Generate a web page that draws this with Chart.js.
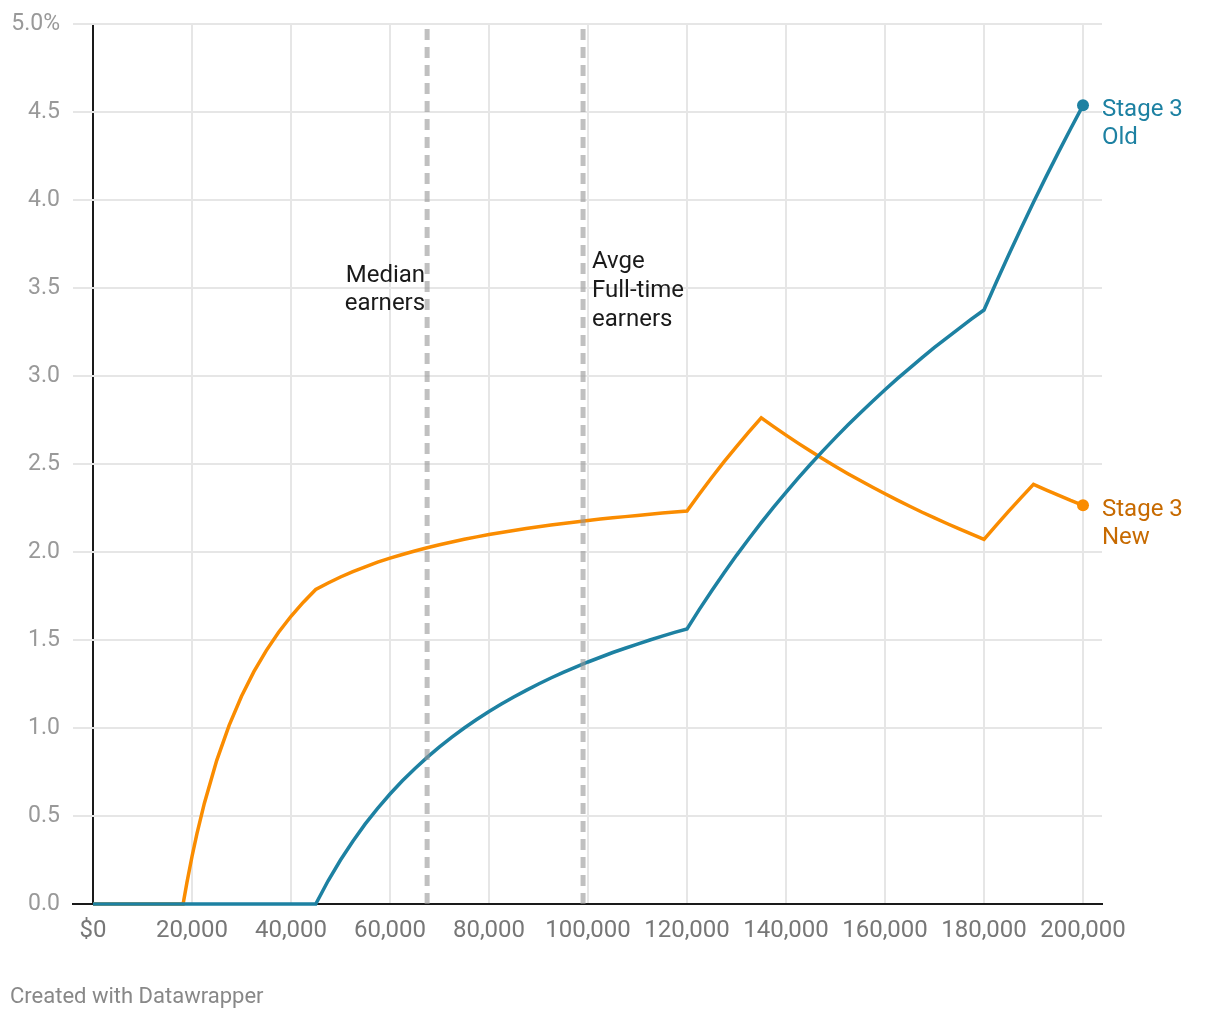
<!DOCTYPE html>
<html><head><meta charset="utf-8">
<script src="https://cdn.jsdelivr.net/npm/chart.js@4"></script>
<style>html,body{margin:0;padding:0;background:#fff}#wrap{width:1220px;height:1020px;position:relative}</style>
</head><body><div id="wrap"><canvas id="c" width="1220" height="1020"></canvas></div>
<script>
const incomes = [0,5000,10000,15000,18200,19000,20000,21000,22500,
  25000,27500,30000,32500,35000,37500,40000,42500,45000,
  47500,50000,52500,55000,57500,60000,62500,65000,67500,70000,72500,75000,77500,80000,82500,85000,87500,90000,92500,95000,97500,100000,102500,105000,107500,110000,112500,115000,117500,120000,
  122500,125000,127500,130000,132500,135000,137500,140000,142500,145000,147500,150000,152500,155000,157500,160000,162500,165000,167500,170000,172500,175000,177500,180000,
  182500,185000,187500,190000,192500,195000,197500,200000];
const stage3Old = [0,0,0,0,0,0,0,0,0,
  0,0,0,0,0,0,0,0,0,
  0.132,0.25,0.357,0.455,0.543,0.625,0.7,0.769,0.833,0.893,0.948,1.0,1.048,1.094,1.136,1.176,1.214,1.25,1.284,1.316,1.346,1.375,1.402,1.429,1.453,1.477,1.5,1.522,1.543,1.563,
  1.674,1.78,1.882,1.981,2.075,2.167,2.255,2.339,2.421,2.5,2.576,2.65,2.721,2.79,2.857,2.922,2.985,3.045,3.104,3.162,3.217,3.271,3.324,3.375,
  3.534,3.689,3.84,3.987,4.13,4.269,4.405,4.538];
const stage3New = [0,0,0,0,0,0.126,0.27,0.4,0.573,
  0.816,1.015,1.18,1.32,1.44,1.544,1.635,1.715,1.787,
  1.824,1.858,1.889,1.916,1.942,1.965,1.986,2.006,2.024,2.041,2.057,2.072,2.086,2.099,2.111,2.122,2.133,2.143,2.153,2.162,2.171,2.179,2.187,2.194,2.201,2.208,2.215,2.221,2.227,2.233,
  2.33,2.423,2.513,2.599,2.682,2.762,2.712,2.664,2.617,2.572,2.528,2.486,2.445,2.406,2.368,2.331,2.295,2.26,2.226,2.194,2.162,2.131,2.101,2.072,
  2.153,2.232,2.309,2.384,2.353,2.323,2.293,2.265];
const xTickValues = [0,20000,40000,60000,80000,100000,120000,140000,160000,180000,200000];
const yTickValues = [0,0.5,1,1.5,2,2.5,3,3.5,4,4.5,5];
const markerIncomes = [67500, 99000];
const markerLabels = [["Median","earners"],["Avge","Full-time","earners"]];
const seriesNames = [["Stage 3","Old"],["Stage 3","New"]];
const seriesColors = ["#1d81a2","#fa8c00"];
const seriesTextColors = ["#1d81a2","#c76a00"];
const footnote = "Created with Datawrapper";

const FONT = "Roboto";
const lastIdx = incomes.length - 1;
function pts(arr){ return incomes.map((x,i)=>({x:x,y:arr[i]})); }

const markerSets = markerIncomes.map(m => ({
  label: "marker", data: [{x:m,y:0},{x:m,y:5}],
  borderColor: "rgba(150,150,150,0.6)", borderWidth: 5, borderDash: [11,7],
  pointRadius: 0, clip: false, order: 0
}));

const textPlugin = {
  id: "texts",
  afterDraw(chart){
    const ctx = chart.ctx, xs = chart.scales.x, ys = chart.scales.y;
    ctx.save();
    ctx.font = "24px " + FONT;
    ctx.textBaseline = "middle";
    ctx.fillStyle = "#1a1a1a";
    const base = ys.getPixelForValue(0);
    let px = xs.getPixelForValue(markerIncomes[0]);
    ctx.textAlign = "right";
    markerLabels[0].forEach((t,i)=>ctx.fillText(t, px - 2, base - 628 + i*28));
    px = xs.getPixelForValue(markerIncomes[1]);
    ctx.textAlign = "left";
    markerLabels[1].forEach((t,i)=>ctx.fillText(t, px + 9, base - 642 + i*29));
    [stage3Old, stage3New].forEach((arr,k)=>{
      const x = xs.getPixelForValue(incomes[lastIdx]);
      const y = ys.getPixelForValue(arr[lastIdx]);
      ctx.fillStyle = seriesTextColors[k];
      ctx.textAlign = "left";
      seriesNames[k].forEach((t,i)=>ctx.fillText(t, x + 19, y + 5 + i*28));
    });
    ctx.font = "22px " + FONT;
    ctx.fillStyle = "#888";
    ctx.textAlign = "left";
    ctx.fillText(footnote, 10, 997);
    ctx.restore();
  }
};

new Chart(document.getElementById("c"), {
  type: "line",
  data: {
    datasets: [
      { label: "Stage 3 Old", data: pts(stage3Old), borderColor: seriesColors[0], backgroundColor: seriesColors[0],
        borderWidth: 3.5, pointRadius: c => c.dataIndex === lastIdx ? 6 : 0, pointBorderWidth: 0,
        pointBackgroundColor: seriesColors[0], clip: false, order: 1, tension: 0 },
      { label: "Stage 3 New", data: pts(stage3New), borderColor: seriesColors[1], backgroundColor: seriesColors[1],
        borderWidth: 3.5, pointRadius: c => c.dataIndex === lastIdx ? 6 : 0, pointBorderWidth: 0,
        pointBackgroundColor: seriesColors[1], clip: false, order: 2, tension: 0 },
      ...markerSets
    ]
  },
  options: {
    responsive: false, animation: false, devicePixelRatio: 1,
    layout: { padding: { top: 22, right: 118, left: 0, bottom: 66 } },
    plugins: { legend: { display: false }, tooltip: { enabled: false } },
    scales: {
      x: {
        type: "linear", min: -4040, max: 203838,
        afterBuildTicks: s => { s.ticks = xTickValues.map(v => ({ value: v })); },
        afterFit: s => { s.height = 50; },
        ticks: { autoSkip: false, maxRotation: 0, padding: 13, color: "#777",
          font: { family: FONT, size: 24 },
          callback: v => v === 0 ? "$0" : v.toLocaleString("en-US") },
        grid: { drawTicks: false, lineWidth: 2,
          color: c => (c.tick && c.tick.value === 0) ? "#1a1a1a" : "#e6e6e6" },
        border: { display: true, color: "#1a1a1a", width: 2 }
      },
      y: {
        min: 0, max: 5,
        afterBuildTicks: s => { s.ticks = yTickValues.map(v => ({ value: v })); },
        afterFit: s => { s.width = 73; },
        ticks: { padding: 13, color: "#999", font: { family: FONT, size: 23, lineHeight: 0.9565 },
          callback: v => v === 5 ? "5.0%" : Number(v).toFixed(1) },
        grid: { drawTicks: false, lineWidth: 2,
          color: c => (c.tick && c.tick.value === 0) ? "#1a1a1a" : "#e6e6e6" },
        border: { display: false }
      }
    }
  },
  plugins: [textPlugin]
});
</script></body></html>
